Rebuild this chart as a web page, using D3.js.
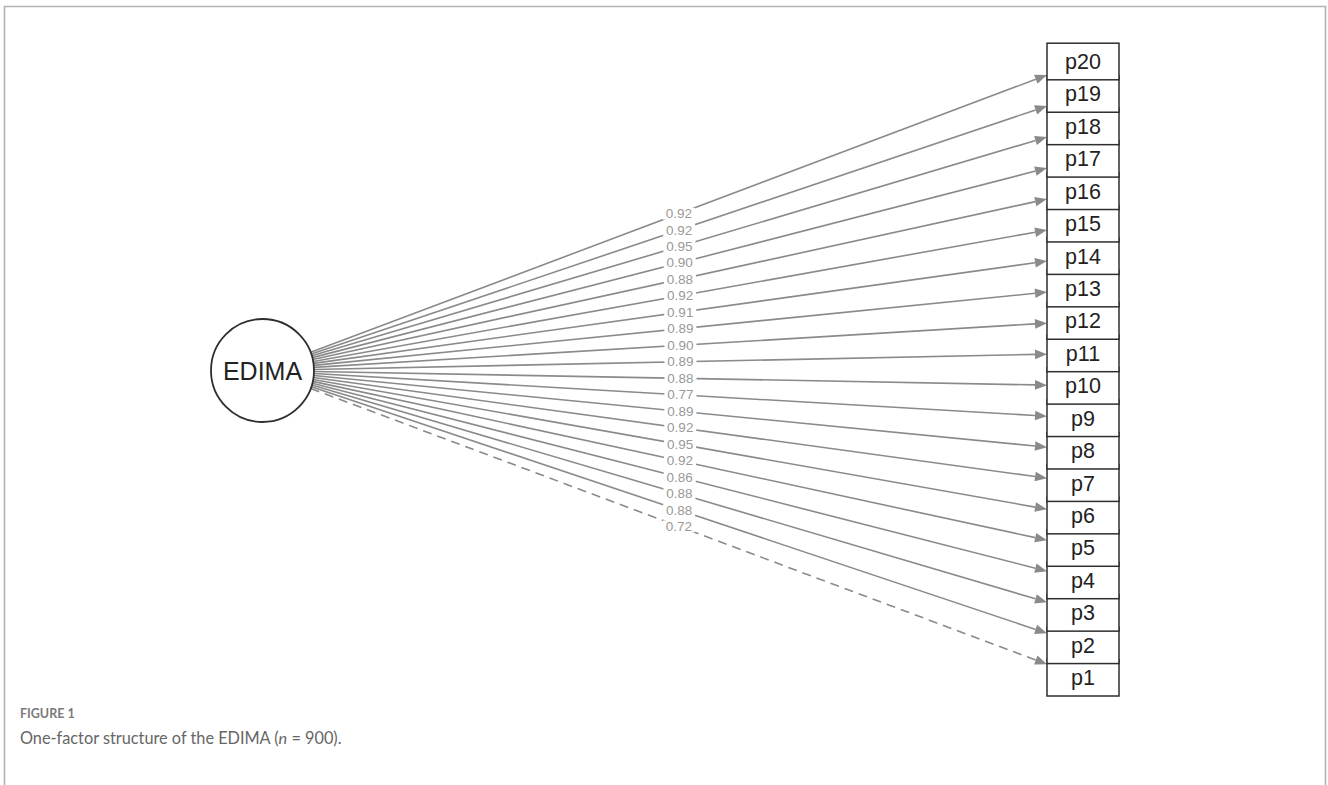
<!DOCTYPE html>
<html>
<head>
<meta charset="utf-8">
<script src="https://cdn.jsdelivr.net/npm/d3@7"></script>
<style>
  html, body { margin: 0; padding: 0; background: #fff; }
  svg { display: block; }
</style>
</head>
<body>
<svg id="chart" width="1328" height="785"></svg>
<script>
// Indicators of the single latent factor, listed top to bottom
const items = ["p20","p19","p18","p17","p16","p15","p14","p13","p12","p11",
               "p10","p9","p8","p7","p6","p5","p4","p3","p2","p1"];
// Standardised loadings, same order as items
const loadings = [0.92,0.92,0.95,0.90,0.88,0.92,0.91,0.89,0.90,0.89,
                  0.88,0.77,0.89,0.92,0.95,0.92,0.86,0.88,0.88,0.72];
// Marker indicator (loading fixed), drawn with a dashed path
const fixedItems = ["p1"];
const factorName = "EDIMA";
const captionLabel = "FIGURE 1";

const svg = d3.select("#chart");

// Frame around the figure panel
const frame = svg.append("g").attr("stroke", "#b3b3b3").attr("stroke-width", 1.6).attr("fill", "none");
frame.append("path").attr("d", "M4.5,785 L4.5,6.5 L1325.5,6.5 L1325.5,785");

// Layout
const circ = { cx: 262.5, cy: 370.5, r: 51.5 };
const box = { x: 1047, w: 72, h: 36.6 };
const y = d3.scalePoint().domain(items).range([61.5, 677.7]);

const lineColor = "#8a8a8a";
const edges = items.map((it, i) => {
  const tx = box.x + box.w / 2, ty = y(it);
  const dx = tx - circ.cx, dy = ty - circ.cy;
  const len = Math.hypot(dx, dy);
  const ux = dx / len, uy = dy / len;
  const sx = circ.cx + circ.r * ux, sy = circ.cy + circ.r * uy;
  const t = (box.x - circ.cx) / dx;
  const ex = box.x, ey = circ.cy + t * dy;
  return { item: it, value: loadings[i], sx, sy, ex, ey, ux, uy, dashed: fixedItems.includes(it) };
});

// Paths from factor to indicators
const ah = 12, aw = 4.8;
const gEdges = svg.append("g");
edges.forEach(e => {
  const bx = e.ex - ah * e.ux, by = e.ey - ah * e.uy;
  gEdges.append("line")
    .attr("x1", e.sx).attr("y1", e.sy).attr("x2", bx).attr("y2", by)
    .attr("stroke", lineColor).attr("stroke-width", 1.6)
    .attr("stroke-dasharray", e.dashed ? "9,6" : null);
  const px = -e.uy, py = e.ux;
  gEdges.append("path")
    .attr("d", `M${e.ex},${e.ey} L${bx + aw * px},${by + aw * py} L${bx - aw * px},${by - aw * py} Z`)
    .attr("fill", lineColor);
});

// Loading labels at the path midpoints
const gLab = svg.append("g");
edges.forEach(e => {
  const mx = (e.sx + e.ex) / 2, my = (e.sy + e.ey) / 2;
  gLab.append("rect")
    .attr("x", mx - 16).attr("y", my - 6).attr("width", 32).attr("height", 12)
    .attr("fill", "#fff");
  gLab.append("text")
    .attr("x", mx).attr("y", my + 4.6)
    .attr("text-anchor", "middle")
    .attr("font-family", "Liberation Sans, Arial, sans-serif")
    .attr("font-size", 13.5)
    .attr("fill", "#999")
    .text(d3.format(".2f")(e.value));
});

// Latent factor
svg.append("circle")
  .attr("cx", circ.cx).attr("cy", circ.cy).attr("r", circ.r)
  .attr("fill", "#fff").attr("stroke", "#2e2e2e").attr("stroke-width", 1.8);
svg.append("text")
  .attr("x", circ.cx).attr("y", circ.cy + 9)
  .attr("text-anchor", "middle")
  .attr("font-family", "Liberation Sans, Arial, sans-serif")
  .attr("font-size", 25)
  .attr("fill", "#222")
  .text(factorName);

// Indicator boxes (upper boxes overlap lower ones)
const gBox = svg.append("g");
items.slice().reverse().forEach(it => {
  const cy = y(it);
  gBox.append("rect")
    .attr("x", box.x).attr("y", cy - box.h / 2).attr("width", box.w).attr("height", box.h)
    .attr("fill", "#fff").attr("stroke", "#2e2e2e").attr("stroke-width", 1.5);
  gBox.append("text")
    .attr("x", box.x + box.w / 2).attr("y", cy + 7.5)
    .attr("text-anchor", "middle")
    .attr("font-family", "Liberation Sans, Arial, sans-serif")
    .attr("font-size", 21.5)
    .attr("fill", "#222")
    .text(it);
});

// Caption
svg.append("text")
  .attr("x", 20).attr("y", 718)
  .attr("font-family", "Lato, sans-serif")
  .attr("font-weight", 700)
  .attr("font-size", 12.5)
  .attr("fill", "#7a7a7a")
  .text(captionLabel);
const cap = svg.append("text")
  .attr("x", 20).attr("y", 744)
  .attr("font-family", "Lato, sans-serif")
  .attr("font-size", 16.3)
  .attr("fill", "#666");
cap.append("tspan").text("One-factor structure of the EDIMA (");
cap.append("tspan").attr("font-style", "italic").text("n");
cap.append("tspan").text(" = 900).");
</script>
</body>
</html>
